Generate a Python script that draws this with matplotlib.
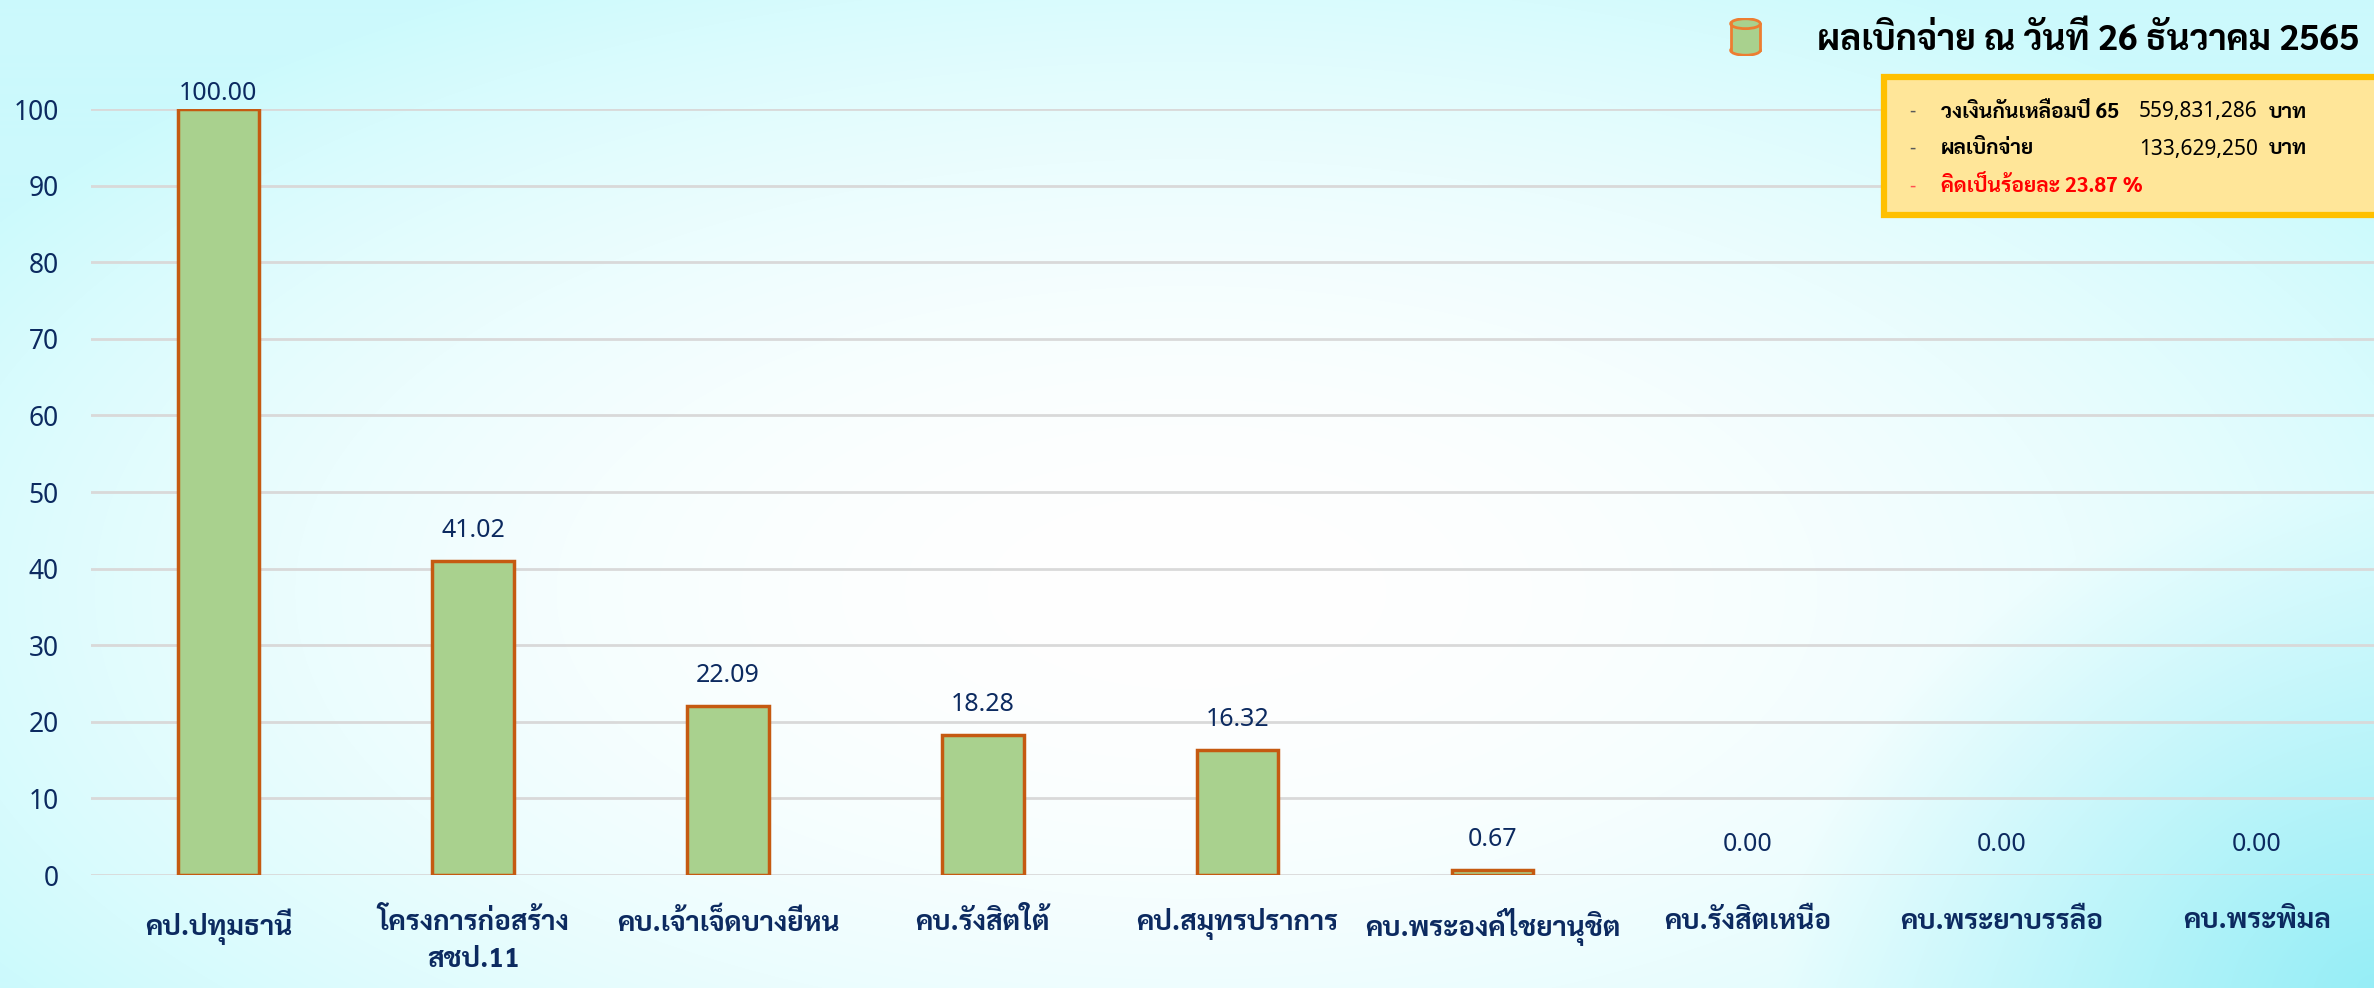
import numpy as np
import matplotlib
matplotlib.use("Agg")
import matplotlib.pyplot as plt
from matplotlib.patches import Rectangle, Ellipse

# ---- data ----
categories = ["คป.ปทุมธานี", "โครงการก่อสร้าง\nสชป.11", "คบ.เจ้าเจ็ดบางยี่หน",
              "คบ.รังสิตใต้", "คป.สมุทรปราการ", "คบ.พระองค์ไชยานุชิต",
              "คบ.รังสิตเหนือ", "คบ.พระยาบรรลือ", "คบ.พระพิมล"]
values = [100.00, 41.02, 22.09, 18.28, 16.32, 0.67, 0.00, 0.00, 0.00]
yticks = list(range(0, 101, 10))
legend_label = "ผลเบิกจ่าย ณ วันที่ 26 ธันวาคม 2565"
box_names = ["วงเงินกันเหลื่อมปี 65", "ผลเบิกจ่าย"]
box_amounts = ["559,831,286", "133,629,250"]
box_unit = "บาท"
box_percent = "คิดเป็นร้อยละ 23.87 %"

THAI = ['Sarabun', 'DejaVu Sans']
NUM = ['Noto Sans', 'DejaVu Sans']
NAVY = '#0c2a60'
W, H = 2374, 988

fig = plt.figure(figsize=(W / 100, H / 100), dpi=100)

# background gradient (cyan edges, white middle)
bg = fig.add_axes([0, 0, 1, 1], zorder=-10)
yy, xx = np.mgrid[0:1:H * 1j, 0:1:W * 1j]
d = np.sqrt(((xx - 0.5) / 0.6) ** 2 + ((yy - 0.6) / 0.7) ** 2)
t = np.clip(d, 0, 1) ** 2.0
edge = np.array([0.80, 0.98, 0.99])
img = (1 - t[..., None]) * np.array([1.0, 1.0, 1.0]) + t[..., None] * edge
# stronger cyan towards bottom-right corner
br = np.clip(1 - np.sqrt(((xx - 1.0) / 0.25) ** 2 + ((yy - 1.0) / 0.5) ** 2), 0, 1)
img = img * (1 - br[..., None] * 0.6) + br[..., None] * 0.6 * np.array([0.45, 0.90, 0.95])
bg.imshow(img, aspect='auto', extent=[0, 1, 0, 1], origin='upper')
bg.axis('off')

# ---- main axes ----
ax = fig.add_axes([91 / W, 1 - 875 / H, 1 - 91 / W, (875 - 109) / H])
ax.patch.set_alpha(0)
x = np.arange(len(categories))
lws = [2.5 if v > 0 else 0 for v in values]
ax.bar(x, values, width=0.32, color='#a9d18e', edgecolor='#c55a11', linewidth=lws, zorder=3)

ax.set_ylim(0, 100)
ax.set_xlim(-0.5, 8.46)
ax.set_yticks(yticks)
ax.set_yticklabels([str(v) for v in yticks], family=NUM, fontsize=19, color=NAVY)
ax.yaxis.grid(True, color='#d9d9d9', linewidth=2)
ax.set_axisbelow(True)
for s in ax.spines.values():
    s.set_visible(False)
ax.tick_params(axis='y', length=0, pad=23)
ax.tick_params(axis='x', length=0, pad=24)
ax.set_xticks(x)
ax.set_xticklabels(categories, family=THAI, fontsize=20, fontweight='bold',
                   color=NAVY, linespacing=1.55, va='top')

for xi, v in zip(x, values):
    off = 11 if v >= 100 else 22
    ax.annotate("%.2f" % v, (xi, v), xytext=(0, off), textcoords='offset points',
                ha='center', va='center', family=NUM, fontsize=18, color=NAVY,
                annotation_clip=False)

# ---- legend entry (cylinder icon + label) ----
ic = fig.add_axes([1729 / W, 1 - 56 / H, 33 / W, 38 / H])
ic.set_xlim(0, 1)
ic.set_ylim(0, 1)
ic.axis('off')
ic.add_patch(Ellipse((0.5, 0.15), 0.9, 0.26, facecolor='#a9d18e', edgecolor='#ed7d31', lw=2))
ic.add_patch(Rectangle((0.05, 0.15), 0.9, 0.7, facecolor='#a9d18e', edgecolor='none'))
ic.plot([0.05, 0.05], [0.15, 0.85], color='#ed7d31', lw=2)
ic.plot([0.95, 0.95], [0.15, 0.85], color='#ed7d31', lw=2)
ic.add_patch(Ellipse((0.5, 0.85), 0.9, 0.26, facecolor='#a9d18e', edgecolor='#ed7d31', lw=2))
fig.text(1817 / W, 1 - 41 / H, legend_label, family=THAI, fontsize=25.5,
         fontweight='bold', color='black', ha='left', va='center')

# ---- info box ----
fig.patches.append(Rectangle((1884 / W, 1 - 215 / H), 0.3, 138 / H,
                             transform=fig.transFigure, facecolor='#ffe699',
                             edgecolor='#ffc000', linewidth=4.5, zorder=5))
rows_y = [112, 149, 187]
for i in range(2):
    y = 1 - rows_y[i] / H
    fig.text(1909 / W, y, "-", family=NUM, fontsize=14, color='#595959', ha='left', va='center', zorder=6)
    fig.text(1941 / W, y, box_names[i], family=THAI, fontsize=15, fontweight='bold',
             color='black', ha='left', va='center', zorder=6)
    fig.text(2139 / W, y, box_amounts[i], family=NUM, fontsize=15,
             color='black', ha='left', va='center', zorder=6)
    fig.text(2269 / W, y, box_unit, family=THAI, fontsize=15, fontweight='bold',
             color='black', ha='left', va='center', zorder=6)
y = 1 - rows_y[2] / H
fig.text(1909 / W, y, "-", family=NUM, fontsize=14, color='#ff5050', ha='left', va='center', zorder=6)
fig.text(1941 / W, y, box_percent, family=THAI, fontsize=15, fontweight='bold',
         color='#ff0000', ha='left', va='center', zorder=6)

fig.savefig("out.png", dpi=100)
